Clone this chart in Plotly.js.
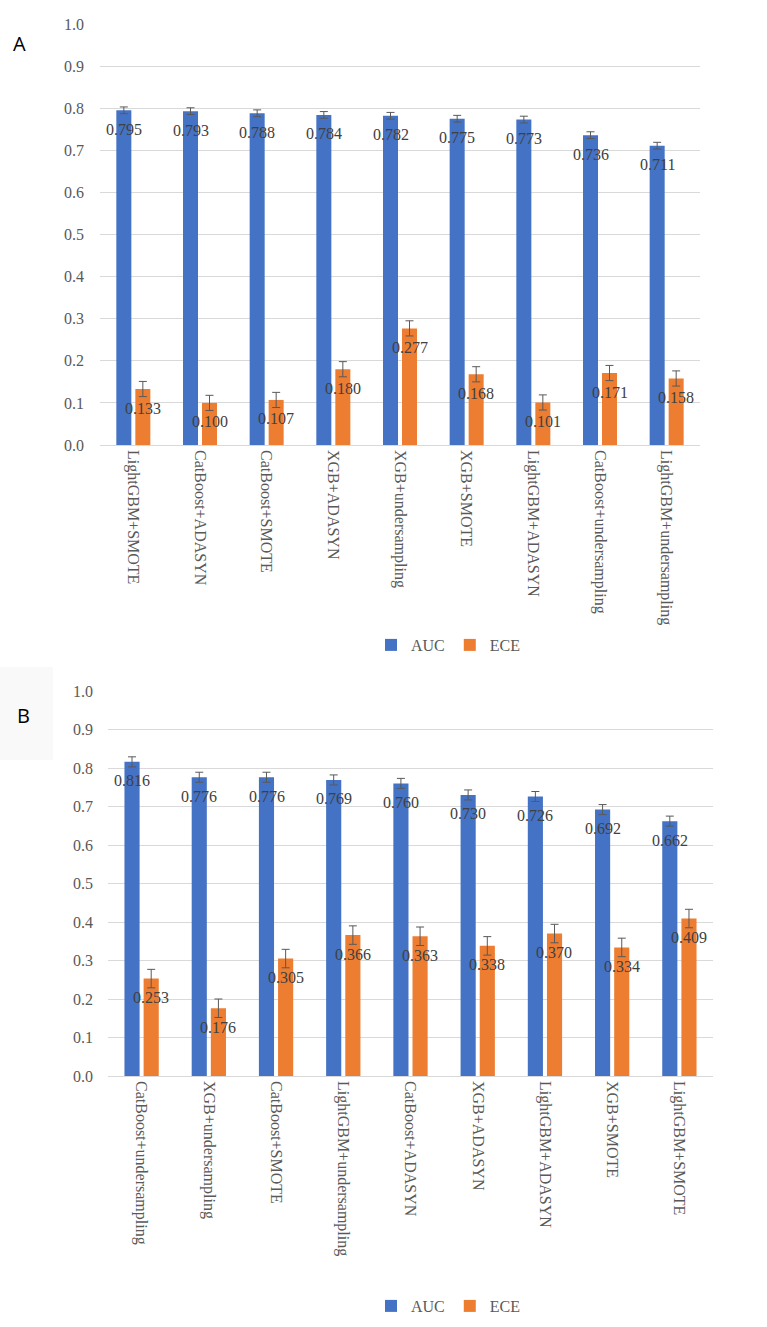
<!DOCTYPE html>
<html>
<head>
<meta charset="utf-8">
<script src="https://cdn.plot.ly/plotly-3.0.1.min.js"></script>
<style>html,body{margin:0;padding:0;background:#fff;}#chart{width:767px;height:1327px;}</style>
</head>
<body>
<div id="chart"></div>
<script>
// Panel A data
const catsA = ["LightGBM+SMOTE","CatBoost+ADASYN","CatBoost+SMOTE","XGB+ADASYN","XGB+undersampling","XGB+SMOTE","LightGBM+ADASYN","CatBoost+undersampling","LightGBM+undersampling"];
const aucA = [0.795,0.793,0.788,0.784,0.782,0.775,0.773,0.736,0.711];
const eceA = [0.133,0.100,0.107,0.180,0.277,0.168,0.101,0.171,0.158];
const aucErrA = 0.008;
const eceErrA = 0.018;

// Panel B data
const catsB = ["CatBoost+undersampling","XGB+undersampling","CatBoost+SMOTE","LightGBM+undersampling","CatBoost+ADASYN","XGB+ADASYN","LightGBM+ADASYN","XGB+SMOTE","LightGBM+SMOTE"];
const aucB = [0.816,0.776,0.776,0.769,0.760,0.730,0.726,0.692,0.662];
const eceB = [0.253,0.176,0.305,0.366,0.363,0.338,0.370,0.334,0.409];
const aucErrB = 0.013;
const eceErrB = 0.024;

const BLUE = '#4472C4', ORANGE = '#ED7D31';
const SERIF = 'Liberation Serif';
const W = 767, H = 1327;
const px = v => v / W;
const py = v => 1 - v / H;

function err(v){ return {type:'constant', value:v, color:'#595959', thickness:1, width:4}; }

const traces = [
  {type:'bar', name:'AUC', x:catsA, y:aucA, marker:{color:BLUE}, error_y:err(aucErrA), xaxis:'x', yaxis:'y', legend:'legend'},
  {type:'bar', name:'ECE', x:catsA, y:eceA, marker:{color:ORANGE}, error_y:err(eceErrA), xaxis:'x', yaxis:'y', legend:'legend'},
  {type:'bar', name:'AUC', x:catsB, y:aucB, marker:{color:BLUE}, error_y:err(aucErrB), xaxis:'x2', yaxis:'y2', legend:'legend2'},
  {type:'bar', name:'ECE', x:catsB, y:eceB, marker:{color:ORANGE}, error_y:err(eceErrB), xaxis:'x2', yaxis:'y2', legend:'legend2'}
];

const annotations = [];
function addLabels(cats, vals, xr, yr, shift){
  cats.forEach((c,i)=>{
    annotations.push({x:c, y:vals[i], xref:xr, yref:yr, text:vals[i].toFixed(3), showarrow:false,
      xanchor:'center', yanchor:'middle',
      xshift:shift, yshift:-19, font:{family:SERIF, size:16, color:'#404040'}});
  });
}
addLabels(catsA, aucA, 'x', 'y', -9.5);
addLabels(catsA, eceA, 'x', 'y', 9.5);
addLabels(catsB, aucB, 'x2', 'y2', -9.5);
addLabels(catsB, eceB, 'x2', 'y2', 9.5);

annotations.push({xref:'paper', yref:'paper', x:px(19.5), y:py(43), xanchor:'center', yanchor:'middle', text:'A', showarrow:false,
  font:{family:'Open Sans', size:20, color:'#000'}});
annotations.push({xref:'paper', yref:'paper', x:px(23), y:py(715), xanchor:'center', yanchor:'middle', text:'B', showarrow:false,
  font:{family:'Open Sans', size:20, color:'#000'}});

const yax = (dom, standoff) => ({domain:dom, range:[0,1], dtick:0.1, tickformat:'.1f', showgrid:true, gridcolor:'#D9D9D9', gridwidth:1,
  zeroline:true, zerolinecolor:'#D9D9D9', zerolinewidth:1, showline:false, ticks:'', ticklabelstandoff:standoff,
  tickfont:{family:SERIF, size:16, color:'#595959'}, fixedrange:true});
const xax = (dom, anchor) => ({domain:dom, anchor:anchor, type:'category', tickangle:90, showgrid:false, zeroline:false,
  showline:false, ticks:'', ticklabelstandoff:4, tickfont:{family:SERIF, size:16, color:'#595959'}, fixedrange:true});

const legendStyle = (yc) => ({orientation:'h', x:px(448), xanchor:'center', y:py(yc), yanchor:'middle',
  font:{family:SERIF, size:16, color:'#595959'}, bgcolor:'rgba(0,0,0,0)', itemwidth:30, traceorder:'normal'});

const layout = {
  width:W, height:H, margin:{l:0, r:0, t:0, b:0},
  paper_bgcolor:'#fff', plot_bgcolor:'#fff',
  barmode:'group', bargap:0.43, bargroupgap:0.21,
  showlegend:true,
  xaxis: xax([px(100), px(700)], 'y'),
  yaxis: Object.assign(yax([py(445), py(24)], 15), {anchor:'x'}),
  xaxis2: xax([px(108), px(713)], 'y2'),
  yaxis2: Object.assign(yax([py(1076), py(691)], 14), {anchor:'x2'}),
  legend: legendStyle(645),
  legend2: legendStyle(1306),
  annotations: annotations,
  shapes: [{type:'rect', xref:'paper', yref:'paper', x0:0, x1:px(53), y0:py(760), y1:py(667),
    fillcolor:'#F9F9F9', line:{width:0}, layer:'below'}]
};

Plotly.newPlot('chart', traces, layout, {staticPlot:true, displayModeBar:false});
</script>
</body>
</html>
